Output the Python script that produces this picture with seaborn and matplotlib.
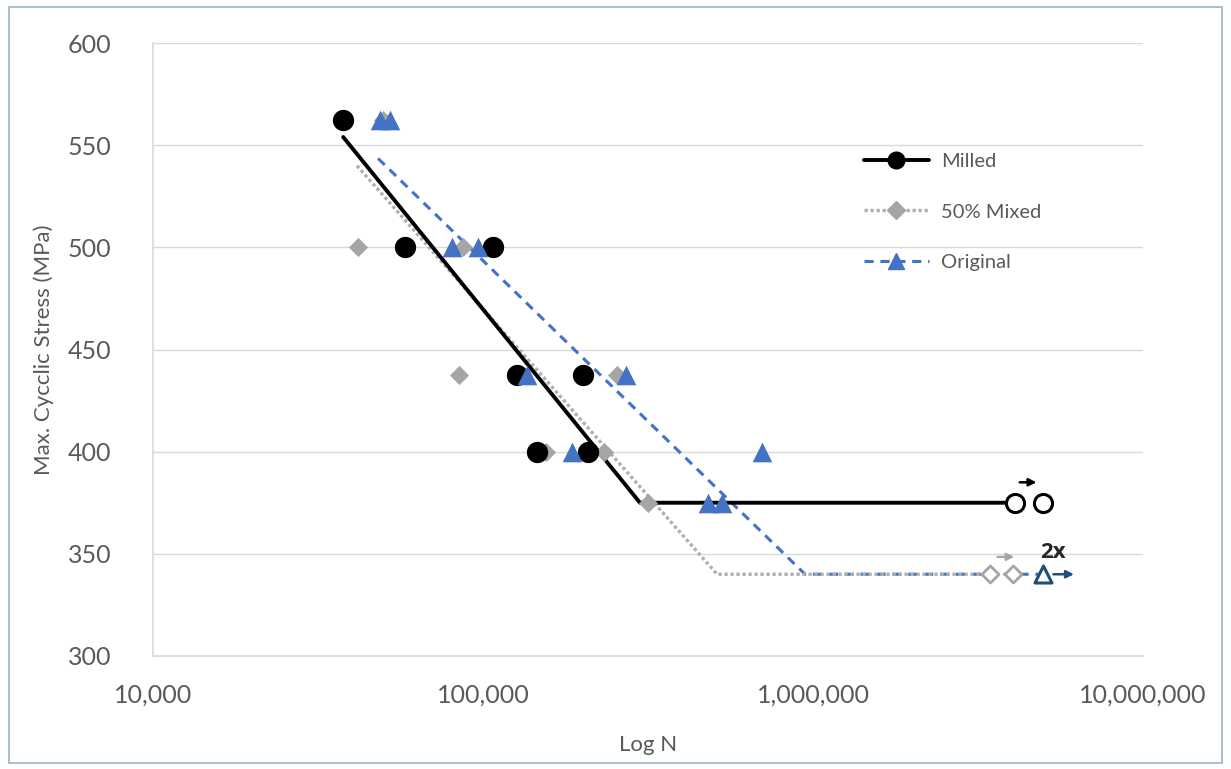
import numpy as np
import pandas as pd
import matplotlib
matplotlib.use("Agg")
import matplotlib.pyplot as plt
from matplotlib.lines import Line2D
from matplotlib.patches import Rectangle
import seaborn as sns

# ---------------- data ----------------
milled_n = [37700, 58000, 107000, 127000, 201000, 146000, 208000]
milled_s = [562.5, 500, 500, 437.5, 437.5, 400, 400]
milled_runout_n = [4100000, 4970000]
milled_runout_s = [375, 375]
milled_fit_n = [37700, 299000, 3800000]
milled_fit_s = [554, 375, 375]

mixed_n = [49800, 41800, 87000, 84500, 255000, 155000, 232000, 316000]
mixed_s = [562.5, 500, 500, 437.5, 437.5, 400, 400, 375]
mixed_runout_n = [3440000, 4040000]
mixed_runout_s = [340, 340]
mixed_fit_n = [41500, 512000, 3300000]
mixed_fit_s = [540, 340, 340]

orig_n = [48700, 52300, 80500, 96600, 136000, 271000, 186000, 700000, 480000, 530000]
orig_s = [562.5, 562.5, 500, 500, 437.5, 437.5, 400, 400, 375, 375]
orig_runout_n = [4970000]
orig_runout_s = [340]
orig_fit_n = [48100, 946000, 4900000]
orig_fit_s = [543.5, 340, 340]

x_ticks = [10000, 100000, 1000000, 10000000]
x_tick_labels = ["10,000", "100,000", "1,000,000", "10,000,000"]
y_ticks = [300, 350, 400, 450, 500, 550, 600]

BLACK = "#000000"
GRAY = "#A5A5A5"
BLUE = "#4472C4"
DARKBLUE = "#1F4E79"
TXT = "#595959"

sns.set_theme(style="white")
plt.rcParams["font.family"] = ["Lato", "DejaVu Sans"]

fig = plt.figure(figsize=(12.31, 7.69), dpi=100)
ax = fig.add_axes([0.1243, 0.147, 0.8042, 0.797])
ax.set_xscale("log")

# gridlines
for yv in y_ticks[1:]:
    ax.axhline(yv, color="#D9D9D9", lw=1.0, zorder=0)

# fit lines
sns.lineplot(x=orig_fit_n, y=orig_fit_s, ax=ax, color=BLUE, lw=2.2,
             linestyle=(0, (3, 2.2)), sort=False, zorder=2)
sns.lineplot(x=mixed_fit_n, y=mixed_fit_s, ax=ax, color="#B0B0B0", lw=2.4,
             linestyle=(0, (1, 0.8)), sort=False, zorder=2)
sns.lineplot(x=milled_fit_n, y=milled_fit_s, ax=ax, color=BLACK, lw=2.8,
             sort=False, zorder=3)

# data markers
sns.scatterplot(x=mixed_n, y=mixed_s, ax=ax, marker="D", s=95, color=GRAY,
                edgecolor=GRAY, linewidth=0, zorder=4)
sns.scatterplot(x=milled_n, y=milled_s, ax=ax, marker="o", s=235, color=BLACK,
                edgecolor=BLACK, linewidth=0, zorder=5)
sns.scatterplot(x=orig_n, y=orig_s, ax=ax, marker="^", s=200, color=BLUE,
                edgecolor=BLUE, linewidth=0, zorder=6)

# run-outs (open markers)
sns.scatterplot(x=milled_runout_n, y=milled_runout_s, ax=ax, marker="o", s=170,
                facecolor="white", edgecolor=BLACK, linewidth=2.2, zorder=6)
sns.scatterplot(x=mixed_runout_n, y=mixed_runout_s, ax=ax, marker="D", s=75,
                facecolor="white", edgecolor=GRAY, linewidth=2.0, zorder=6)
sns.scatterplot(x=orig_runout_n, y=orig_runout_s, ax=ax, marker="^", s=150,
                facecolor="white", edgecolor=DARKBLUE, linewidth=2.2, zorder=6)

# arrows for run-outs
ax.annotate("", xy=(4850000, 385), xytext=(4150000, 385),
            arrowprops=dict(arrowstyle="-|>", color=BLACK, lw=1.8, mutation_scale=11))
ax.annotate("", xy=(4150000, 348.5), xytext=(3550000, 348.5),
            arrowprops=dict(arrowstyle="-|>", color=GRAY, lw=1.6, mutation_scale=11))
ax.annotate("", xy=(6300000, 340), xytext=(5250000, 340),
            arrowprops=dict(arrowstyle="-|>", color=DARKBLUE, lw=1.8, mutation_scale=11))
ax.text(5350000, 345.5, "2x", fontsize=16, fontweight="bold", color="#262626",
        ha="center", va="bottom", family=["Open Sans", "DejaVu Sans"])

# axes
ax.set_xlim(10000, 10000000)
ax.set_ylim(300, 600)
ax.set_xticks(x_ticks)
ax.set_xticklabels(x_tick_labels)
ax.xaxis.set_minor_locator(matplotlib.ticker.NullLocator())
ax.set_yticks(y_ticks)
ax.tick_params(axis="both", length=0, labelsize=18, colors=TXT)
ax.tick_params(axis="x", pad=20)
ax.tick_params(axis="y", pad=30)
ax.set_xlabel("Log N", fontsize=16, color=TXT, labelpad=20)
ax.set_ylabel("Max. Cycclic Stress (MPa)", fontsize=16, color=TXT, labelpad=10)
for side in ["top", "right"]:
    ax.spines[side].set_visible(False)
for side in ["left", "bottom"]:
    ax.spines[side].set_color("#D9D9D9")
    ax.spines[side].set_linewidth(1.2)

# legend
handles = [
    Line2D([0], [0], color=BLACK, lw=2.8, marker="o", markersize=12),
    Line2D([0], [0], color="#B0B0B0", lw=2.4, linestyle=(0, (1, 0.8)), marker="D", markersize=9,
           markerfacecolor=GRAY, markeredgecolor=GRAY),
    Line2D([0], [0], color=BLUE, lw=2.2, linestyle=(0, (3, 2.2)), marker="^", markersize=11),
]
leg = ax.legend(handles, ["Milled", "50% Mixed", "Original"], loc="upper left",
                bbox_to_anchor=(0.7, 0.85), frameon=False, fontsize=14.5,
                labelspacing=1.65, handlelength=3.2, handletextpad=0.6)
for t in leg.get_texts():
    t.set_color(TXT)

# figure border
fig.patches.append(Rectangle((0.007, 0.008), 0.986, 0.983, transform=fig.transFigure,
                             fill=False, edgecolor="#9DB3C8", lw=1.2))

fig.savefig("out.png", dpi=100)
